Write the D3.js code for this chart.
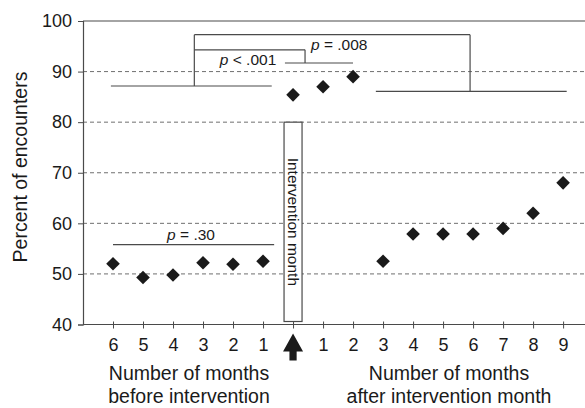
<!DOCTYPE html>
<html>
<head>
<meta charset="utf-8">
<script src="https://cdn.jsdelivr.net/npm/d3@7/dist/d3.min.js"></script>
<style>
  body { margin: 0; background: #fff; }
  svg { display: block; font-family: "Liberation Sans", Arial, sans-serif; }
</style>
</head>
<body>
<svg id="chart" width="585" height="408"></svg>
<script>
// x categories: 6 months before, intervention month (arrow), 9 months after
const tickLabels = ["6", "5", "4", "3", "2", "1", "", "1", "2", "3", "4", "5", "6", "7", "8", "9"]
const beforeValues = [52.0, 49.3, 49.8, 52.2, 51.9, 52.5]
const interventionValue = [85.4]
const afterValues = [87.0, 89.0, 52.5, 57.9, 57.9, 57.9, 59.0, 62.0, 68.0]
const yTicks = [40, 50, 60, 70, 80, 90, 100]
const gridValues = [50, 60, 70, 80, 90]

// significance brackets, in [category index, percent] pairs
const bracketLines = [
  [[-0.07, 87.15], [5.29, 87.15]],
  [[2.71, 87.15], [2.71, 97.3]],
  [[2.71, 94.3], [6.4, 94.3]],
  [[2.71, 97.3], [11.9, 97.3]],
  [[11.9, 97.3], [11.9, 86.1]],
  [[8.76, 86.1], [15.12, 86.1]],
  [[5.73, 91.7], [8.0, 91.7]],
  [[6.4, 94.3], [6.4, 91.7]],
  [[0, 55.8], [5.37, 55.8]]
]
const pLabels = [
  { i: 4.5, v: 91.35, rest: " < .001" },
  { i: 7.54, v: 94.2, rest: " = .008" },
  { i: 2.6, v: 56.7, rest: " = .30" }
]

const values = beforeValues.concat(interventionValue, afterValues)
const points = values.map((v, i) => ({ i, v }))

const svg = d3.select("#chart")
const mLeft = 83, mRight = 585, mTop = 21, mBottom = 324.5

const x = d3.scaleLinear().domain([-1, 15.73]).range([mLeft, mRight])
const y = d3.scaleLinear().domain([40, 100]).range([mBottom, mTop])

const ink = "#1a1a1a"
const lineCol = "#4a4a4a"

// gridlines
svg.append("g")
  .selectAll("line")
  .data(gridValues)
  .join("line")
  .attr("x1", mLeft).attr("x2", mRight)
  .attr("y1", d => y(d)).attr("y2", d => y(d))
  .attr("stroke", "#6f6f6f")
  .attr("stroke-width", 1)
  .attr("stroke-dasharray", "4,3")

// top frame line
svg.append("line")
  .attr("x1", mLeft).attr("x2", mRight)
  .attr("y1", y(100)).attr("y2", y(100))
  .attr("stroke", lineCol).attr("stroke-width", 1.2)

// y axis
const yAxis = svg.append("g")
  .attr("transform", `translate(${mLeft},0)`)
  .call(d3.axisLeft(y).tickValues(yTicks).tickSize(5).tickPadding(6))
yAxis.select(".domain").attr("stroke", lineCol).attr("stroke-width", 1.2)
yAxis.selectAll(".tick line").attr("stroke", lineCol)
yAxis.selectAll("text")
  .attr("font-size", 18)
  .attr("fill", ink)
  .attr("font-family", "Liberation Sans, Arial, sans-serif")

// x axis
const xAxis = svg.append("g")
  .attr("transform", `translate(0,${mBottom})`)
  .call(d3.axisBottom(x)
    .tickValues(d3.range(tickLabels.length))
    .tickFormat(i => tickLabels[i])
    .tickSizeInner(4).tickSizeOuter(0).tickPadding(10))
xAxis.select(".domain").attr("stroke", lineCol).attr("stroke-width", 1.2)
  .attr("d", `M${mLeft},0H${mRight}`)
xAxis.selectAll(".tick line").attr("stroke", lineCol).attr("y1", -3)
xAxis.selectAll("text")
  .attr("font-size", 18)
  .attr("fill", ink)
  .attr("font-family", "Liberation Sans, Arial, sans-serif")

// intervention month box
const boxX = x(6)
svg.append("rect")
  .attr("x", boxX - 9).attr("y", y(80))
  .attr("width", 18).attr("height", mBottom - 3 - y(80))
  .attr("fill", "#fff")
  .attr("stroke", lineCol).attr("stroke-width", 1.2)
svg.append("text")
  .attr("transform", `translate(${boxX - 5},${(y(80) + mBottom - 3) / 2}) rotate(90)`)
  .attr("text-anchor", "middle")
  .attr("font-size", 15.5)
  .attr("fill", ink)
  .text("Intervention month")

// arrow below the intervention month
const ax = x(6), ay = mBottom + 9
svg.append("path")
  .attr("d", `M${ax},${ay} L${ax + 10},${ay + 18} L${ax + 3.6},${ay + 18} L${ax + 3.6},${ay + 27} L${ax - 3.6},${ay + 27} L${ax - 3.6},${ay + 18} L${ax - 10},${ay + 18} Z`)
  .attr("fill", ink)

// brackets
svg.append("g")
  .selectAll("line")
  .data(bracketLines)
  .join("line")
  .attr("x1", d => x(d[0][0])).attr("y1", d => y(d[0][1]))
  .attr("x2", d => x(d[1][0])).attr("y2", d => y(d[1][1]))
  .attr("stroke", lineCol)
  .attr("stroke-width", 1.2)

const pText = svg.append("g")
  .selectAll("text")
  .data(pLabels)
  .join("text")
  .attr("x", d => x(d.i)).attr("y", d => y(d.v))
  .attr("text-anchor", "middle")
  .attr("font-size", 15.5)
  .attr("fill", ink)
pText.append("tspan").attr("font-style", "italic").text("p")
pText.append("tspan").text(d => d.rest)

// diamonds
svg.append("g")
  .selectAll("path")
  .data(points)
  .join("path")
  .attr("transform", d => `translate(${x(d.i)},${y(d.v)})`)
  .attr("d", "M0,-6.8L6.8,0L0,6.8L-6.8,0Z")
  .attr("fill", ink)

// axis titles
svg.append("text")
  .attr("transform", `translate(27,167) rotate(-90)`)
  .attr("text-anchor", "middle")
  .attr("font-size", 19.5)
  .attr("fill", ink)
  .text("Percent of encounters")

const titles = [
  { cx: 189, lines: ["Number of months", "before intervention"] },
  { cx: 449, lines: ["Number of months", "after intervention month"] }
]
titles.forEach(t => {
  t.lines.forEach((s, k) => {
    svg.append("text")
      .attr("x", t.cx).attr("y", 380 + k * 23)
      .attr("text-anchor", "middle")
      .attr("font-size", 19.5)
      .attr("fill", ink)
      .text(s)
  })
})
</script>
</body>
</html>
